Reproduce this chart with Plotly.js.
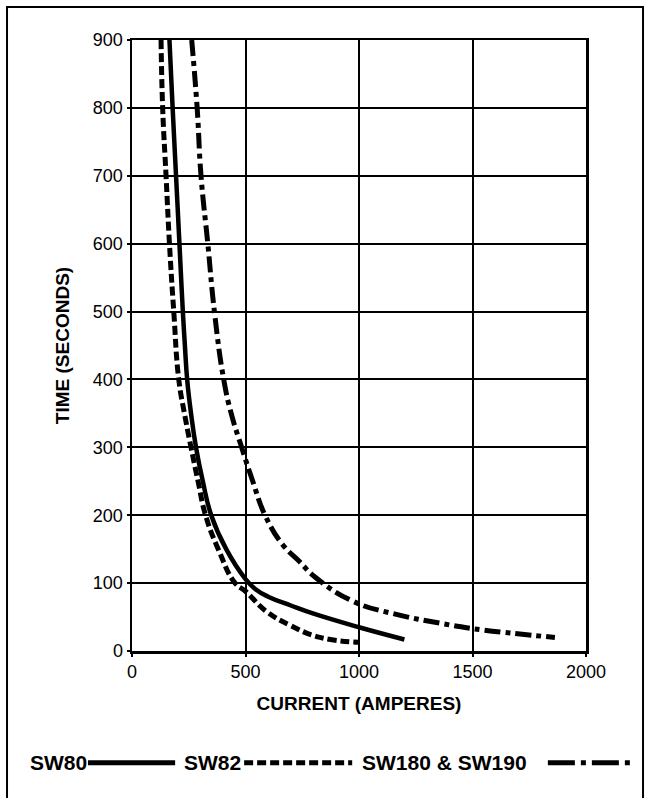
<!DOCTYPE html>
<html>
<head>
<meta charset="utf-8">
<script src="https://cdn.plot.ly/plotly-3.0.1.min.js"></script>
<style>
  html, body { margin: 0; padding: 0; background: #fff; }
  #chart { width: 645px; height: 798px; }
</style>
</head>
<body>
<div id="chart"></div>
<script>
// ---- data ----
var seriesNames = ["SW80", "SW82", "SW180 & SW190"];

var sw80Current = [165, 179, 194, 209, 224, 233, 243, 260, 282, 312, 349, 415, 500, 544, 600, 700, 800, 1000, 1200];
var sw80Time    = [900, 800, 700, 600, 500, 450, 400, 350, 300, 250, 200, 150, 106, 91, 80, 67, 55, 35, 17];

var sw82Current = [128, 135, 150, 165, 184, 206, 231, 260, 291, 324, 380, 454, 500, 593, 696, 828, 1000];
var sw82Time    = [900, 800, 700, 600, 500, 400, 350, 300, 250, 200, 150, 100, 88, 58, 38, 20, 13];

var sw180Current = [263, 287, 304, 334, 363, 404, 437, 483, 532, 586, 663, 740, 806, 975, 1151, 1357, 1500, 1863];
var sw180Time    = [900, 800, 700, 600, 500, 400, 350, 300, 250, 200, 157, 131, 109, 73, 55, 41, 33, 20];

var xTicks = [0, 500, 1000, 1500, 2000];
var yTicks = [0, 100, 200, 300, 400, 500, 600, 700, 800, 900];

var xTitle = "CURRENT (AMPERES)";
var yTitle = "TIME (SECONDS)";

// ---- styling ----
var FONT = "Liberation Sans, Arial, Helvetica, sans-serif";
var dashStyles = ["solid", "9px,4px", "16px,5px,5px,5px"];
var lineWidths = [4.5, 5, 5];

var traces = [
  {x: sw80Current, y: sw80Time, name: seriesNames[0]},
  {x: sw82Current, y: sw82Time, name: seriesNames[1]},
  {x: sw180Current, y: sw180Time, name: seriesNames[2]}
].map(function (t, i) {
  return {
    type: "scatter", mode: "lines", x: t.x, y: t.y, name: t.name,
    line: {color: "#000", width: lineWidths[i], dash: dashStyles[i], shape: "spline", smoothing: 1.3},
    showlegend: false, hoverinfo: "x+y+name", cliponaxis: true
  };
});

// legend drawn as text followed by a line sample (text before symbol, as in the reference)
var legendY = -0.183;
var legendItems = [
  {text: seriesNames[0], tx: -0.229, x0: -0.097, x1: 0.095, dash: "solid"},
  {text: seriesNames[1], tx: 0.110, x0: 0.247, x1: 0.485, dash: "9px,4px"},
  {text: seriesNames[2], tx: 0.502, x0: 0.916, x1: 1.108, dash: "27px,6px,5px,6px"}
];

var annotations = legendItems.map(function (it) {
  return {
    xref: "paper", yref: "paper", x: it.tx, y: legendY, xanchor: "left", yanchor: "middle",
    text: "<b>" + it.text.replace("&", "&amp;") + "</b>", showarrow: false,
    font: {family: FONT, size: 21, color: "#000"}
  };
});

var shapes = legendItems.map(function (it) {
  return {
    type: "line", xref: "paper", yref: "paper", x0: it.x0, x1: it.x1, y0: legendY, y1: legendY,
    line: {color: "#000", width: 5, dash: it.dash}
  };
});

// outer frame of the figure
shapes.push({
  type: "rect", xref: "paper", yref: "paper",
  x0: -0.2753, x1: 1.1256, y0: -0.26, y1: 1.054,
  line: {color: "#000", width: 2}, fillcolor: "rgba(0,0,0,0)", layer: "below"
});

var layout = {
  width: 645, height: 798,
  margin: {l: 132, r: 59, t: 40, b: 147, pad: 0},
  paper_bgcolor: "#fff", plot_bgcolor: "#fff",
  font: {family: FONT, color: "#000", size: 18},
  showlegend: false,
  xaxis: {
    range: [0, 2000], tickvals: xTicks, ticktext: xTicks.map(String),
    showgrid: true, gridcolor: "#000", gridwidth: 2,
    showline: true, linecolor: "#000", linewidth: 2.5, mirror: true,
    ticks: "outside", ticklen: 3, tickwidth: 2, tickcolor: "#000",
    zeroline: false, fixedrange: true,
    tickfont: {family: FONT, size: 18, color: "#000"},
    title: {text: "<b>" + xTitle + "</b>", font: {family: FONT, size: 19, color: "#000"}, standoff: 16}
  },
  yaxis: {
    range: [0, 900], tickvals: yTicks, ticktext: yTicks.map(String),
    showgrid: true, gridcolor: "#000", gridwidth: 2,
    showline: true, linecolor: "#000", linewidth: 2.5, mirror: true,
    ticks: "outside", ticklen: 3, tickwidth: 2, tickcolor: "#000",
    zeroline: false, fixedrange: true,
    tickfont: {family: FONT, size: 18, color: "#000"},
    title: {text: "<b>" + yTitle + "</b>", font: {family: FONT, size: 19, color: "#000"}, standoff: 18}
  },
  annotations: annotations,
  shapes: shapes
};

Plotly.newPlot("chart", traces, layout, {displayModeBar: false, staticPlot: true});
</script>
</body>
</html>
